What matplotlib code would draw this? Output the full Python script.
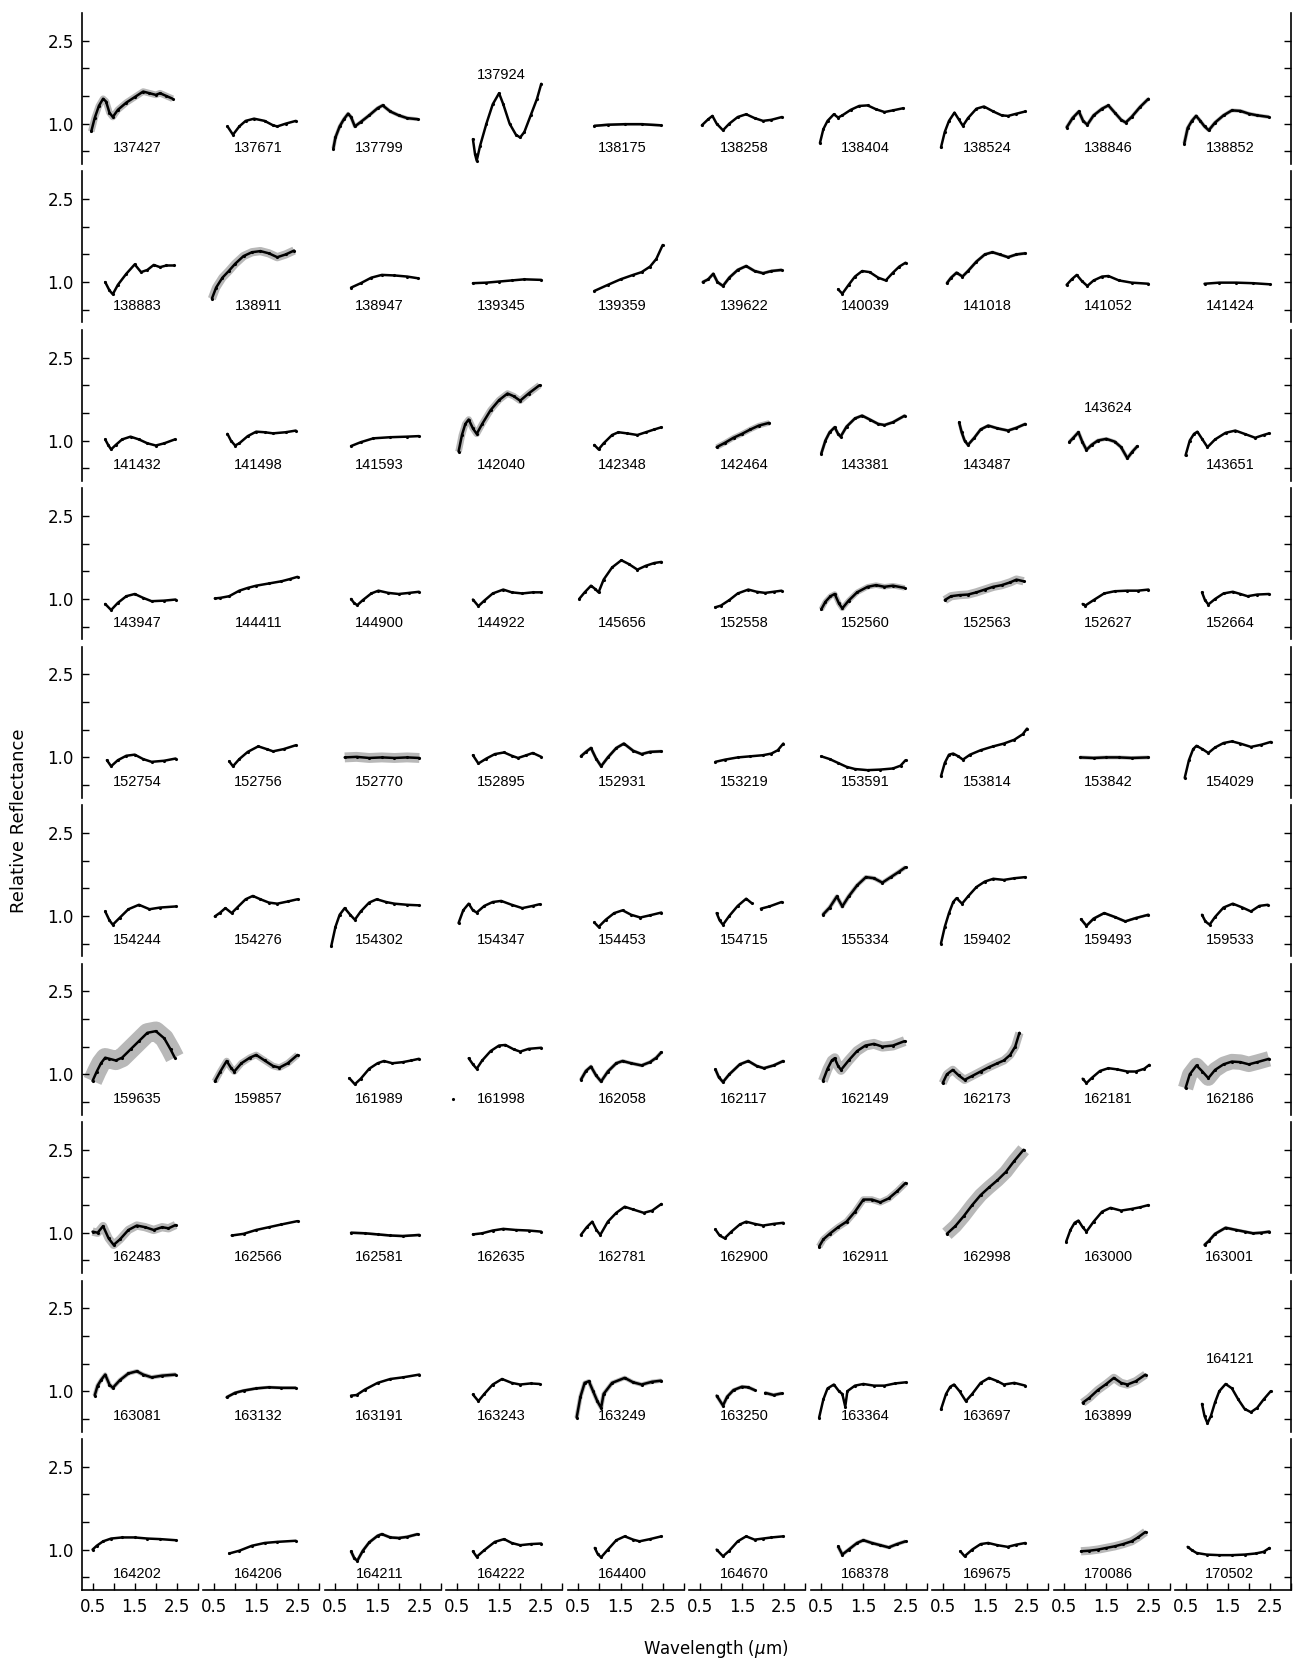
import numpy as np
import matplotlib
matplotlib.use("Agg")
import matplotlib.pyplot as plt

nan = float("nan")

# ---------------- data: (wavelength um, relative reflectance) ----------------
s137427 = [(0.47,0.86),(0.55,1.1),(0.65,1.32),(0.75,1.45),(0.82,1.4),(0.9,1.2),(0.98,1.12),(1.1,1.25),(1.3,1.38),(1.5,1.48),(1.7,1.58),(1.85,1.55),(2.0,1.52),(2.1,1.55),(2.25,1.5),(2.4,1.45)]
s137671 = [(0.82,0.95),(0.95,0.8),(1.1,0.95),(1.25,1.05),(1.45,1.09),(1.7,1.05),(1.9,0.97),(2.0,0.95),(2.2,1.0),(2.44,1.05)]
s137799 = [(0.45,0.55),(0.5,0.75),(0.6,0.95),(0.7,1.08),(0.8,1.18),(0.87,1.12),(0.96,0.95),(1.1,1.03),(1.3,1.15),(1.5,1.28),(1.62,1.33),(1.8,1.22),(2.0,1.15),(2.2,1.1),(2.45,1.08)]
s137924 = [(0.88,0.72),(0.93,0.45),(0.97,0.33),(1.05,0.6),(1.2,1.0),(1.35,1.35),(1.5,1.55),(1.6,1.35),(1.75,1.0),(1.9,0.8),(2.0,0.75),(2.1,0.85),(2.25,1.15),(2.4,1.45),(2.5,1.72)]
s138175 = [(0.88,0.96),(1.2,0.98),(1.6,0.99),(2.0,0.99),(2.45,0.97)]
s138258 = [(0.55,0.97),(0.7,1.08),(0.8,1.14),(0.9,1.0),(1.05,0.88),(1.2,1.0),(1.4,1.12),(1.6,1.17),(1.8,1.1),(2.0,1.05),(2.2,1.07),(2.45,1.12)]
s138404 = [(0.47,0.65),(0.55,0.9),(0.65,1.05),(0.8,1.17),(0.9,1.11),(1.0,1.15),(1.2,1.25),(1.4,1.32),(1.6,1.33),(1.8,1.26),(2.0,1.21),(2.2,1.24),(2.45,1.28)]
s138524 = [(0.46,0.57),(0.55,0.85),(0.65,1.05),(0.78,1.2),(0.88,1.08),(0.98,0.96),(1.1,1.1),(1.3,1.27),(1.48,1.31),(1.7,1.22),(1.9,1.15),(2.05,1.14),(2.25,1.18),(2.46,1.22)]
s138846 = [(0.56,0.93),(0.7,1.1),(0.85,1.22),(0.95,1.05),(1.05,0.98),(1.2,1.15),(1.4,1.27),(1.55,1.33),(1.7,1.2),(1.85,1.07),(1.96,1.02),(2.1,1.12),(2.3,1.3),(2.5,1.45)]
s138852 = [(0.47,0.64),(0.55,0.92),(0.65,1.05),(0.75,1.14),(0.85,1.05),(0.95,0.95),(1.05,0.88),(1.2,1.02),(1.4,1.15),(1.6,1.24),(1.8,1.23),(2.0,1.18),(2.2,1.15),(2.48,1.12)]

s138883 = [(0.8,1.0),(0.9,0.85),(0.98,0.78),(1.1,0.95),(1.3,1.15),(1.5,1.32),(1.65,1.18),(1.8,1.22),(1.95,1.31),(2.1,1.27),(2.25,1.3),(2.42,1.3)]
s138911 = [(0.45,0.7),(0.55,0.9),(0.7,1.08),(0.85,1.2),(1.0,1.33),(1.2,1.47),(1.4,1.54),(1.6,1.56),(1.8,1.52),(2.0,1.45),(2.2,1.5),(2.4,1.57)]
s138947 = [(0.87,0.9),(1.1,0.98),(1.35,1.08),(1.6,1.13),(1.9,1.12),(2.2,1.1),(2.45,1.07)]
s139345 = [(0.88,0.98),(1.2,0.99),(1.5,1.01),(1.8,1.03),(2.1,1.05),(2.5,1.04)]
s139359 = [(0.88,0.84),(1.2,0.95),(1.5,1.05),(1.8,1.13),(2.0,1.18),(2.2,1.28),(2.35,1.42),(2.5,1.67)]
s139622 = [(0.57,1.0),(0.7,1.05),(0.82,1.15),(0.92,1.0),(1.05,0.93),(1.2,1.08),(1.4,1.22),(1.6,1.29),(1.8,1.2),(2.0,1.16),(2.2,1.2),(2.44,1.22)]
s140039 = [(0.9,0.87),(1.0,0.79),(1.15,0.95),(1.3,1.1),(1.47,1.2),(1.65,1.18),(1.85,1.08),(2.03,1.03),(2.2,1.17),(2.35,1.28),(2.5,1.35)]
s141018 = [(0.6,0.98),(0.7,1.08),(0.83,1.17),(0.97,1.1),(1.1,1.2),(1.3,1.37),(1.5,1.5),(1.68,1.54),(1.85,1.5),(2.05,1.45),(2.25,1.5),(2.46,1.52)]
s141052 = [(0.56,0.95),(0.68,1.05),(0.8,1.13),(0.92,1.02),(1.05,0.93),(1.2,1.03),(1.4,1.1),(1.55,1.11),(1.8,1.03),(2.1,0.99),(2.5,0.97)]
s141424 = [(0.95,0.97),(1.3,0.99),(1.7,0.99),(2.1,0.98),(2.5,0.96)]

s141432 = [(0.8,1.02),(0.87,0.92),(0.94,0.84),(1.05,0.92),(1.2,1.02),(1.4,1.07),(1.6,1.02),(1.8,0.95),(2.0,0.91),(2.2,0.95),(2.45,1.02)]
s141498 = [(0.82,1.12),(0.9,1.0),(1.0,0.91),(1.1,0.95),(1.3,1.08),(1.5,1.16),(1.7,1.15),(1.9,1.13),(2.2,1.15),(2.44,1.18)]
s141593 = [(0.87,0.9),(1.1,0.97),(1.4,1.04),(1.8,1.06),(2.2,1.07),(2.48,1.08)]
s142040 = [(0.54,0.8),(0.62,1.1),(0.7,1.3),(0.78,1.38),(0.88,1.22),(0.97,1.12),(1.1,1.3),(1.3,1.55),(1.5,1.73),(1.7,1.85),(1.85,1.8),(2.0,1.72),(2.2,1.85),(2.46,2.0)]
s142348 = [(0.88,0.92),(0.98,0.84),(1.1,0.95),(1.3,1.1),(1.45,1.15),(1.65,1.13),(1.9,1.1),(2.1,1.15),(2.3,1.2),(2.47,1.24)]
s142464 = [(0.9,0.88),(1.1,0.96),(1.3,1.05),(1.5,1.12),(1.7,1.2),(1.9,1.27),(2.15,1.32)]
s143381 = [(0.5,0.76),(0.6,1.0),(0.7,1.15),(0.82,1.24),(0.9,1.12),(0.96,1.07),(1.1,1.25),(1.3,1.4),(1.47,1.45),(1.65,1.38),(1.85,1.3),(2.0,1.28),(2.2,1.33),(2.48,1.45)]
s143487 = [(0.89,1.33),(0.95,1.15),(1.02,1.0),(1.1,0.92),(1.25,1.05),(1.4,1.2),(1.58,1.27),(1.8,1.22),(2.05,1.18),(2.25,1.23),(2.46,1.3)]
s143624 = [(0.62,0.97),(0.72,1.05),(0.84,1.15),(0.93,0.98),(1.03,0.83),(1.15,0.92),(1.3,1.0),(1.5,1.03),(1.7,0.98),(1.85,0.88),(2.0,0.68),(2.12,0.8),(2.24,0.9)]
s143651 = [(0.5,0.73),(0.6,1.0),(0.7,1.12),(0.78,1.16),(0.9,1.02),(1.02,0.88),(1.2,1.02),(1.45,1.14),(1.68,1.18),(1.9,1.12),(2.15,1.05),(2.35,1.1),(2.48,1.13)]

s143947 = [(0.8,0.91),(0.94,0.8),(1.1,0.93),(1.3,1.05),(1.5,1.09),(1.7,1.02),(1.9,0.96),(2.2,0.97),(2.47,0.99)]
s144411 = [(0.52,1.01),(0.65,1.02),(0.86,1.05),(1.1,1.15),(1.3,1.2),(1.5,1.24),(1.8,1.28),(2.1,1.32),(2.3,1.36),(2.48,1.4)]
s144900 = [(0.87,1.0),(0.95,0.92),(1.02,0.89),(1.15,0.98),(1.35,1.1),(1.52,1.15),(1.75,1.11),(2.0,1.09),(2.25,1.11),(2.48,1.13)]
s144922 = [(0.88,0.99),(1.01,0.87),(1.15,0.97),(1.35,1.1),(1.6,1.17),(1.8,1.12),(2.05,1.1),(2.3,1.12),(2.5,1.12)]
s145656 = [(0.52,1.0),(0.65,1.12),(0.8,1.24),(0.9,1.18),(0.98,1.12),(1.1,1.35),(1.3,1.57),(1.52,1.7),(1.7,1.63),(1.9,1.53),(2.1,1.6),(2.3,1.65),(2.47,1.67)]
s152558 = [(0.87,0.85),(1.0,0.88),(1.2,0.98),(1.4,1.1),(1.65,1.17),(1.85,1.13),(2.05,1.11),(2.25,1.13),(2.44,1.15)]
s152560 = [(0.5,0.81),(0.6,0.95),(0.72,1.05),(0.82,1.09),(0.92,0.92),(1.0,0.83),(1.15,0.97),(1.35,1.12),(1.6,1.22),(1.8,1.25),(2.0,1.22),(2.2,1.24),(2.48,1.2)]
s152563 = [(0.55,0.98),(0.7,1.05),(0.9,1.07),(1.1,1.08),(1.3,1.12),(1.5,1.17),(1.7,1.22),(1.9,1.25),(2.1,1.3),(2.25,1.35),(2.42,1.32)]
s152627 = [(0.94,0.91),(1.0,0.88),(1.2,0.98),(1.45,1.1),(1.7,1.14),(2.0,1.15),(2.25,1.15),(2.5,1.17)]
s152664 = [(0.89,1.12),(0.96,0.98),(1.04,0.9),(1.2,1.0),(1.4,1.1),(1.62,1.13),(1.8,1.09),(1.97,1.05),(2.2,1.08),(2.48,1.09)]

s152754 = [(0.84,0.95),(0.94,0.84),(1.1,0.95),(1.3,1.03),(1.5,1.05),(1.7,0.97),(1.9,0.92),(2.2,0.94),(2.47,0.98)]
s152756 = [(0.86,0.93),(0.95,0.84),(1.1,0.97),(1.3,1.1),(1.55,1.2),(1.75,1.15),(1.9,1.11),(2.15,1.15),(2.44,1.22)]
s152770 = [(0.72,1.0),(1.0,1.01),(1.3,0.99),(1.6,1.0),(1.9,0.99),(2.2,1.0),(2.49,0.99)]
s152895 = [(0.88,1.04),(1.01,0.89),(1.2,0.98),(1.4,1.06),(1.62,1.09),(1.8,1.03),(1.95,0.99),(2.15,1.04),(2.3,1.08),(2.5,1.01)]
s152931 = [(0.56,1.02),(0.68,1.1),(0.8,1.17),(0.92,0.98),(1.04,0.84),(1.2,1.0),(1.4,1.17),(1.58,1.25),(1.8,1.12),(2.0,1.06),(2.2,1.1),(2.47,1.11)]
s153219 = [(0.87,0.92),(1.1,0.96),(1.4,1.0),(1.7,1.02),(2.0,1.04),(2.2,1.07),(2.35,1.13),(2.48,1.25)]
s153591 = [(0.5,1.02),(0.7,0.97),(0.9,0.9),(1.1,0.83),(1.3,0.79),(1.6,0.77),(1.9,0.78),(2.2,0.8),(2.38,0.85),(2.5,0.95)]
s153814 = [(0.46,0.66),(0.55,0.9),(0.65,1.05),(0.75,1.07),(0.87,1.02),(0.98,0.96),(1.15,1.05),(1.4,1.13),(1.7,1.2),(1.95,1.25),(2.2,1.32),(2.4,1.42),(2.5,1.52)]
s153842 = [(0.88,1.0),(1.2,0.99),(1.5,1.0),(1.8,1.0),(2.1,0.99),(2.5,1.0)]
s154029 = [(0.48,0.63),(0.58,0.95),(0.68,1.15),(0.76,1.21),(0.9,1.15),(1.04,1.08),(1.2,1.18),(1.4,1.26),(1.6,1.29),(1.8,1.25),(2.05,1.19),(2.3,1.23),(2.52,1.28)]

s154244 = [(0.8,1.08),(0.9,0.92),(0.98,0.84),(1.15,0.97),(1.35,1.12),(1.6,1.2),(1.85,1.12),(2.1,1.15),(2.47,1.17)]
s154276 = [(0.52,0.99),(0.65,1.06),(0.77,1.14),(0.92,1.05),(1.05,1.15),(1.25,1.3),(1.42,1.36),(1.6,1.3),(1.8,1.24),(2.0,1.22),(2.25,1.26),(2.48,1.3)]
s154302 = [(0.4,0.45),(0.5,0.8),(0.6,1.02),(0.72,1.14),(0.85,1.02),(0.96,0.93),(1.1,1.08),(1.3,1.24),(1.48,1.3),(1.7,1.25),(1.9,1.22),(2.2,1.2),(2.48,1.19)]
s154347 = [(0.54,0.87),(0.65,1.1),(0.78,1.22),(0.88,1.1),(0.97,1.06),(1.15,1.18),(1.35,1.25),(1.55,1.27),(1.8,1.2),(2.05,1.14),(2.3,1.18),(2.46,1.21)]
s154453 = [(0.88,0.88),(0.98,0.8),(1.15,0.93),(1.35,1.05),(1.55,1.1),(1.75,1.02),(1.97,0.97),(2.2,1.01),(2.47,1.06)]
s154715 = [(0.9,1.05),(0.97,0.92),(1.05,0.84),(1.2,1.0),(1.4,1.18),(1.6,1.31),(1.73,1.23),(nan,nan),(1.95,1.13),(2.15,1.17),(2.44,1.25)]
s155334 = [(0.54,1.02),(0.7,1.15),(0.87,1.35),(1.0,1.17),(1.15,1.35),(1.35,1.55),(1.56,1.7),(1.75,1.68),(1.95,1.6),(2.15,1.7),(2.35,1.8),(2.5,1.88)]
s159402 = [(0.46,0.5),(0.55,0.8),(0.65,1.05),(0.75,1.25),(0.83,1.32),(0.96,1.22),(1.1,1.35),(1.3,1.52),(1.5,1.62),(1.7,1.67),(1.95,1.65),(2.2,1.68),(2.46,1.7)]
s159493 = [(0.9,0.94),(1.03,0.82),(1.2,0.95),(1.45,1.05),(1.7,0.98),(1.95,0.9),(2.2,0.96),(2.5,1.02)]
s159533 = [(0.89,1.02),(0.97,0.9),(1.07,0.84),(1.2,0.98),(1.4,1.15),(1.62,1.22),(1.85,1.15),(2.05,1.08),(2.25,1.18),(2.45,1.2)]

s159635 = [(0.5,0.88),(0.6,1.05),(0.7,1.2),(0.8,1.3),(0.9,1.28),(1.05,1.25),(1.2,1.3),(1.4,1.45),(1.6,1.6),(1.8,1.75),(2.0,1.78),(2.2,1.65),(2.35,1.45),(2.45,1.3)]
s159857 = [(0.52,0.87),(0.65,1.05),(0.8,1.24),(0.9,1.12),(0.98,1.05),(1.15,1.2),(1.35,1.3),(1.5,1.35),(1.7,1.25),(1.9,1.15),(2.05,1.12),(2.25,1.2),(2.48,1.35)]
s161989 = [(0.83,0.93),(0.96,0.82),(1.1,0.92),(1.3,1.1),(1.5,1.2),(1.65,1.24),(1.85,1.2),(2.1,1.22),(2.3,1.25),(2.48,1.28)]
s161998 = [(0.41,0.55),(nan,nan),(0.78,1.29),(0.88,1.18),(0.97,1.1),(1.1,1.25),(1.3,1.42),(1.5,1.52),(1.65,1.53),(1.85,1.45),(2.0,1.41),(2.2,1.46),(2.5,1.48)]
s162058 = [(0.56,0.9),(0.68,1.06),(0.8,1.14),(0.92,0.98),(1.04,0.87),(1.2,1.05),(1.4,1.2),(1.55,1.24),(1.75,1.2),(2.0,1.16),(2.2,1.22),(2.35,1.3),(2.47,1.4)]
s162117 = [(0.87,1.09),(0.95,0.95),(1.05,0.86),(1.2,1.0),(1.45,1.18),(1.65,1.24),(1.85,1.15),(2.02,1.11),(2.25,1.16),(2.48,1.24)]
s162149 = [(0.54,0.88),(0.65,1.1),(0.75,1.25),(0.82,1.29),(0.9,1.15),(0.97,1.08),(1.15,1.25),(1.35,1.42),(1.55,1.52),(1.75,1.55),(1.95,1.5),(2.2,1.52),(2.48,1.6)]
s162173 = [(0.5,0.84),(0.6,1.0),(0.74,1.08),(0.88,0.98),(1.02,0.9),(1.2,0.97),(1.4,1.05),(1.6,1.13),(1.8,1.2),(1.95,1.25),(2.1,1.35),(2.22,1.5),(2.32,1.75)]
s162181 = [(0.94,0.92),(1.03,0.84),(1.15,0.93),(1.35,1.06),(1.55,1.11),(1.75,1.09),(2.0,1.05),(2.2,1.05),(2.4,1.1),(2.52,1.17)]
s162186 = [(0.5,0.75),(0.6,1.0),(0.76,1.16),(0.9,1.05),(1.04,0.93),(1.2,1.08),(1.4,1.18),(1.6,1.23),(1.8,1.22),(2.0,1.18),(2.2,1.22),(2.48,1.28)]

s162483 = [(0.5,1.02),(0.62,1.0),(0.75,1.12),(0.88,0.9),(1.0,0.78),(1.15,0.88),(1.35,1.05),(1.55,1.13),(1.75,1.1),(1.95,1.05),(2.15,1.1),(2.3,1.08),(2.47,1.14)]
s162566 = [(0.92,0.95),(1.2,0.98),(1.5,1.05),(1.8,1.1),(2.1,1.15),(2.48,1.21)]
s162581 = [(0.87,1.0),(1.2,0.99),(1.5,0.97),(1.8,0.95),(2.1,0.94),(2.49,0.96)]
s162635 = [(0.88,0.97),(1.1,0.99),(1.35,1.04),(1.6,1.07),(1.9,1.05),(2.2,1.04),(2.5,1.02)]
s162781 = [(0.56,0.96),(0.7,1.1),(0.83,1.2),(0.93,1.05),(1.02,0.96),(1.2,1.2),(1.4,1.36),(1.6,1.47),(1.8,1.42),(2.05,1.36),(2.25,1.4),(2.47,1.52)]
s162900 = [(0.87,1.06),(0.97,0.95),(1.09,0.9),(1.25,1.02),(1.45,1.15),(1.6,1.2),(1.8,1.16),(2.0,1.13),(2.25,1.16),(2.48,1.18)]
s162911 = [(0.45,0.75),(0.55,0.88),(0.7,0.98),(0.9,1.1),(1.1,1.2),(1.3,1.38),(1.5,1.6),(1.7,1.6),(1.9,1.55),(2.1,1.62),(2.3,1.75),(2.5,1.9)]
s162998 = [(0.6,0.98),(0.8,1.12),(1.0,1.3),(1.2,1.5),(1.4,1.68),(1.6,1.82),(1.8,1.95),(2.0,2.1),(2.2,2.3),(2.42,2.5)]
s163000 = [(0.55,0.84),(0.65,1.05),(0.75,1.18),(0.84,1.22),(0.94,1.1),(1.03,1.02),(1.2,1.2),(1.4,1.38),(1.6,1.45),(1.85,1.4),(2.1,1.43),(2.3,1.46),(2.5,1.5)]
s163001 = [(0.95,0.78),(1.05,0.85),(1.2,0.98),(1.45,1.09),(1.7,1.05),(1.9,1.02),(2.1,0.99),(2.3,1.0),(2.49,1.02)]

s163081 = [(0.55,0.92),(0.62,1.1),(0.7,1.2),(0.8,1.3),(0.9,1.12),(0.98,1.06),(1.15,1.2),(1.35,1.32),(1.55,1.36),(1.7,1.3),(1.9,1.25),(2.15,1.28),(2.47,1.3)]
s163132 = [(0.8,0.89),(1.0,0.97),(1.2,1.01),(1.5,1.05),(1.8,1.07),(2.1,1.06),(2.44,1.06)]
s163191 = [(0.87,0.92),(1.0,0.93),(1.2,1.03),(1.5,1.15),(1.8,1.22),(2.1,1.25),(2.49,1.3)]
s163243 = [(0.88,0.94),(1.01,0.82),(1.15,0.95),(1.35,1.12),(1.57,1.22),(1.8,1.15),(2.0,1.12),(2.25,1.14),(2.46,1.13)]
s163249 = [(0.46,0.52),(0.55,0.9),(0.65,1.15),(0.75,1.18),(0.85,1.0),(0.95,0.82),(1.04,0.7),(1.1,0.95),(1.3,1.15),(1.6,1.24),(1.8,1.16),(2.0,1.12),(2.25,1.17),(2.47,1.19)]
s163250 = [(0.9,0.92),(1.05,0.74),(1.15,0.9),(1.3,1.02),(1.5,1.08),(1.65,1.07),(1.8,1.02),(nan,nan),(2.05,0.97),(2.25,0.93),(2.44,0.96)]
s163364 = [(0.45,0.52),(0.55,0.85),(0.65,1.05),(0.8,1.12),(0.92,1.0),(1.0,0.95),(1.07,0.72),(1.12,1.0),(1.3,1.1),(1.5,1.13),(1.75,1.1),(2.0,1.1),(2.25,1.14),(2.5,1.16)]
s163697 = [(0.46,0.67),(0.58,0.95),(0.68,1.08),(0.77,1.12),(0.9,1.0),(1.05,0.82),(1.2,0.95),(1.4,1.15),(1.6,1.24),(1.8,1.18),(1.95,1.12),(2.2,1.15),(2.46,1.1)]
s163899 = [(0.94,0.79),(1.1,0.88),(1.3,1.02),(1.5,1.13),(1.68,1.24),(1.85,1.15),(2.0,1.12),(2.2,1.18),(2.43,1.3)]
s164121 = [(0.89,0.77),(0.95,0.55),(1.02,0.42),(1.1,0.55),(1.2,0.8),(1.3,1.0),(1.45,1.13),(1.6,1.05),(1.75,0.85),(1.9,0.68),(2.05,0.62),(2.2,0.7),(2.35,0.85),(2.52,1.0)]

s164202 = [(0.5,1.0),(0.6,1.07),(0.75,1.15),(0.94,1.2),(1.2,1.22),(1.5,1.22),(1.8,1.2),(2.1,1.19),(2.47,1.17)]
s164206 = [(0.86,0.93),(1.1,0.98),(1.4,1.07),(1.7,1.12),(2.0,1.14),(2.44,1.16)]
s164211 = [(0.87,0.97),(0.95,0.84),(1.02,0.8),(1.15,0.98),(1.3,1.13),(1.5,1.25),(1.6,1.28),(1.8,1.22),(2.0,1.21),(2.2,1.23),(2.45,1.28)]
s164222 = [(0.88,0.97),(0.97,0.87),(1.15,0.99),(1.4,1.14),(1.62,1.19),(1.8,1.12),(2.0,1.08),(2.25,1.1),(2.5,1.11)]
s164400 = [(0.89,1.03),(0.96,0.92),(1.04,0.86),(1.2,1.0),(1.4,1.17),(1.6,1.24),(1.8,1.18),(1.95,1.15),(2.2,1.19),(2.47,1.24)]
s164670 = [(0.9,1.0),(1.05,0.88),(1.2,0.98),(1.4,1.15),(1.6,1.24),(1.8,1.18),(2.0,1.2),(2.2,1.22),(2.48,1.24)]
s168378 = [(0.9,1.06),(1.0,0.91),(1.15,1.0),(1.35,1.12),(1.5,1.17),(1.7,1.12),(1.9,1.08),(2.1,1.04),(2.3,1.1),(2.5,1.15)]
s169675 = [(0.92,0.97),(1.02,0.88),(1.2,1.0),(1.4,1.1),(1.58,1.12),(1.8,1.08),(2.04,1.05),(2.25,1.09),(2.46,1.12)]
s170086 = [(0.9,0.97),(1.1,0.98),(1.3,1.0),(1.5,1.03),(1.7,1.06),(1.9,1.1),(2.1,1.15),(2.25,1.22),(2.43,1.32)]
s170502 = [(0.55,1.05),(0.65,0.99),(0.76,0.94),(1.0,0.91),(1.3,0.9),(1.6,0.9),(1.9,0.91),(2.16,0.93),(2.35,0.96),(2.49,1.03)]

asteroid_ids = [
    "137427","137671","137799","137924","138175","138258","138404","138524","138846","138852",
    "138883","138911","138947","139345","139359","139622","140039","141018","141052","141424",
    "141432","141498","141593","142040","142348","142464","143381","143487","143624","143651",
    "143947","144411","144900","144922","145656","152558","152560","152563","152627","152664",
    "152754","152756","152770","152895","152931","153219","153591","153814","153842","154029",
    "154244","154276","154302","154347","154453","154715","155334","159402","159493","159533",
    "159635","159857","161989","161998","162058","162117","162149","162173","162181","162186",
    "162483","162566","162581","162635","162781","162900","162911","162998","163000","163001",
    "163081","163132","163191","163243","163249","163250","163364","163697","163899","164121",
    "164202","164206","164211","164222","164400","164670","168378","169675","170086","170502",
]

# approximate scatter (full spread in reflectance units) of the noisier spectra
noise_spread = {
    "137427": 0.12, "137799": 0.07, "138846": 0.07, "138852": 0.07, "138911": 0.15,
    "142040": 0.12, "142464": 0.10, "143624": 0.07, "152560": 0.10, "152563": 0.15,
    "152770": 0.18, "153842": 0.07, "155334": 0.08, "159635": 0.35, "159857": 0.12,
    "162149": 0.18, "162173": 0.15, "162186": 0.28, "162483": 0.15, "162911": 0.12,
    "162998": 0.25, "163899": 0.15, "170086": 0.15, "163250": 0.07, "168378": 0.07,
    "163081": 0.08, "163249": 0.08, "138175": 0.05, "163132": 0.06, "162581": 0.05,
    "162058": 0.07, "162117": 0.06, "141018": 0.06, "139622": 0.06, "152931": 0.06,
    "143381": 0.06, "143487": 0.06, "163001": 0.06, "159493": 0.05, "164211": 0.06,
}

# label heights (default below the spectrum)
label_y_default = 0.56
label_y_special = {"137924": 1.88, "143624": 1.59, "164121": 1.59}

xticks = [0.5, 1.0, 1.5, 2.0, 2.5, 3.0]
xticklabels = ["0.5", "", "1.5", "", "2.5", ""]
yticks = [0.5, 1.0, 1.5, 2.0, 2.5]
yticklabels = ["", "1.0", "", "", "2.5"]

# ---------------- plotting ----------------
fig = plt.figure(figsize=(12.93, 16.61), dpi=100)
nrows, ncols = 10, 10
gs = fig.add_gridspec(nrows, ncols,
                      left=82/1293, right=1291/1293,
                      top=1 - 13/1661, bottom=1 - 1590/1661,
                      wspace=0.047, hspace=0.049)

PT_PER_UNIT = 55.2 * 0.72  # line width (pt) of one reflectance unit

for i, aid in enumerate(asteroid_ids):
    r, c = divmod(i, ncols)
    ax = fig.add_subplot(gs[r, c])
    pts = np.array(globals()["s" + aid], dtype=float)
    if aid in noise_spread:
        ax.plot(pts[:, 0], pts[:, 1], color="black", alpha=0.28,
                lw=noise_spread[aid] * PT_PER_UNIT,
                solid_capstyle="butt", solid_joinstyle="round")
    ax.plot(pts[:, 0], pts[:, 1], color="black", lw=1.8,
            marker=".", ms=2.5, solid_capstyle="round", solid_joinstyle="round")
    ax.set_xlim(0.25, 3.0)
    ax.set_ylim(0.27, 3.0)
    ly = label_y_special.get(aid, label_y_default)
    ax.text(1.55, ly, aid, ha="center", va="center",
            fontsize=10.5, family=["Liberation Sans", "DejaVu Sans"])

    for side in ["top", "left", "right", "bottom"]:
        ax.spines[side].set_visible(False)
    ax.set_xticks([])
    ax.set_yticks([])
    if c == 0:
        ax.spines["left"].set_visible(True)
        ax.spines["left"].set_linewidth(1.2)
        ax.set_yticks(yticks)
        ax.set_yticklabels(yticklabels)
        ax.tick_params(axis="y", direction="in", length=5, width=1,
                       labelsize=12, left=True, right=False, pad=6)
    if c == ncols - 1:
        ax.spines["right"].set_visible(True)
        ax.spines["right"].set_linewidth(1.2)
        ax.set_yticks(yticks)
        ax.set_yticklabels([])
        ax.tick_params(axis="y", direction="in", length=5, width=1,
                       left=False, right=True, labelleft=False)
    if r == nrows - 1:
        ax.spines["bottom"].set_visible(True)
        ax.spines["bottom"].set_linewidth(1.2)
        ax.set_xticks(xticks)
        ax.set_xticklabels(xticklabels)
        ax.tick_params(axis="x", direction="in", length=5, width=1,
                       labelsize=12, pad=6)

fig.text(19/1293, 1 - 821/1661, "Relative Reflectance", rotation=90,
         ha="center", va="center", fontsize=13)
fig.text(716/1293, 1 - 1649/1661, r"Wavelength ($\mu$m)",
         ha="center", va="center", fontsize=12)

fig.savefig("out.png", dpi=100)
